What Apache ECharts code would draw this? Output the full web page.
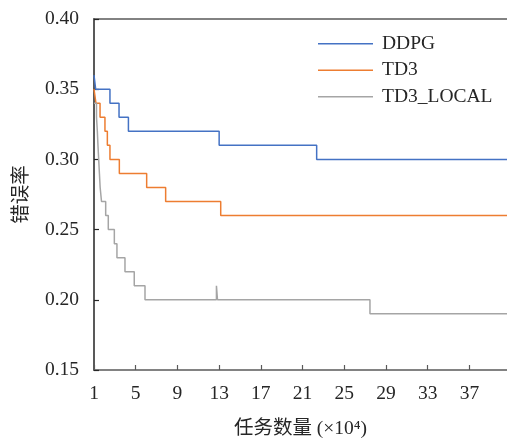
<!DOCTYPE html>
<html>
<head>
    <meta charset="utf-8" />
    <title>错误率</title>
    <style type="text/css">
        html, body {
            height: 100%;
            width: 100%;
            margin: 0;
            padding: 0;
            background-color: #ffffff;
            overflow: hidden;
        }

        #charts {
            width: 507px;
            height: 439px;
        }
    </style>
</head>
<body>
    <div id="charts"></div>
    <script src="https://cdn.jsdelivr.net/npm/echarts@6/dist/echarts.min.js"></script>
    <script type="text/javascript">
        // 数据 (x: 任务数量 ×10^4, y: 错误率), 每一点是台阶开始的位置
        var seriesNames = ['DDPG', 'TD3', 'TD3_LOCAL'];
        var ddpgX = [1, 1.16, 2.53, 3.4, 4.3, 13.0, 22.35, 40.6];
        var ddpgY = [0.36, 0.35, 0.34, 0.33, 0.32, 0.31, 0.30, 0.30];
        var td3X = [1, 1.19, 1.58, 2.05, 2.28, 2.53, 3.43, 6.05, 7.87, 13.15, 40.6];
        var td3Y = [0.35, 0.34, 0.33, 0.32, 0.31, 0.30, 0.29, 0.28, 0.27, 0.26, 0.26];
        var localX = [1, 1.24, 1.32, 1.38, 1.45, 1.52, 1.59, 1.72, 2.12, 2.37, 2.95, 3.2, 3.97, 4.86, 5.89, 12.74, 12.84, 27.46, 40.6];
        var localY = [0.34, 0.33, 0.32, 0.31, 0.30, 0.29, 0.28, 0.27, 0.26, 0.25, 0.24, 0.23, 0.22, 0.21, 0.20, 0.21, 0.20, 0.19, 0.19];
        var xTicks = [1, 5, 9, 13, 17, 21, 25, 29, 33, 37];

        var FONT = 'Liberation Serif, "Noto Sans CJK SC", serif';
        var TEXT_COLOR = '#262626';
        var AXIS_COLOR = '#595959';

        var pairs = function (xs, ys) {
            var out = [];
            for (var i = 0; i < xs.length; i++) {
                out.push([xs[i], ys[i]]);
            }
            return out;
        };

        var makeSeries = function (name, color, data) {
            return {
                name: name,
                type: 'line',
                step: 'end',
                symbol: 'none',
                data: data,
                lineStyle: { color: color, width: 1.5 },
                itemStyle: { color: color },
                animation: false
            };
        };

        var ChartOption = {
            backgroundColor: '#ffffff',
            textStyle: { fontFamily: FONT },
            legend: {
                orient: 'vertical',
                left: 318,
                top: 34,
                padding: 0,
                icon: 'rect',
                itemWidth: 55,
                itemHeight: 1.5,
                itemGap: 7,
                textStyle: { fontFamily: FONT, fontSize: 19.5, color: TEXT_COLOR, lineHeight: 19, padding: [0, 0, 0, 4] },
                data: seriesNames
            },
            grid: { left: 94, top: 19, right: 0, bottom: 69, containLabel: false, outerBoundsMode: 'none' },
            xAxis: [
                {
                    type: 'value',
                    min: 1,
                    max: 40.6,
                    interval: 4,
                    name: '任务数量 (×10⁴)',
                    nameLocation: 'middle',
                    nameGap: 49,
                    nameTextStyle: { fontFamily: FONT, fontSize: 19.5, color: TEXT_COLOR },
                    axisLine: { show: true, lineStyle: { color: AXIS_COLOR, width: 1.5 } },
                    axisTick: { show: true, inside: true, length: 5, lineStyle: { color: AXIS_COLOR, width: 1.2 } },
                    axisLabel: {
                        fontFamily: FONT, fontSize: 19.5, color: TEXT_COLOR, margin: 14,
                        showMaxLabel: false,
                        formatter: function (v) { return xTicks.indexOf(v) >= 0 ? String(v) : ''; }
                    },
                    splitLine: { show: false }
                },
                {
                    type: 'value',
                    position: 'top',
                    min: 1,
                    max: 40.6,
                    interval: 4,
                    axisLine: { show: true, lineStyle: { color: AXIS_COLOR, width: 1.5 } },
                    axisTick: { show: false },
                    axisLabel: { show: false },
                    splitLine: { show: false }
                }
            ],
            yAxis: {
                type: 'value',
                min: 0.15,
                max: 0.40,
                interval: 0.05,
                name: '错误率',
                nameLocation: 'middle',
                nameGap: 62,
                nameRotate: 90,
                nameTextStyle: { fontFamily: FONT, fontSize: 19.5, color: TEXT_COLOR },
                axisLine: { show: true, lineStyle: { color: AXIS_COLOR, width: 2 } },
                axisTick: { show: true, inside: true, length: 5, lineStyle: { color: '#262626', width: 1.2 } },
                axisLabel: {
                    fontFamily: FONT, fontSize: 19.5, color: TEXT_COLOR, margin: 15,
                    formatter: function (v) { return v.toFixed(2); }
                },
                splitLine: { show: false }
            },
            series: [
                makeSeries(seriesNames[0], '#4472C4', pairs(ddpgX, ddpgY)),
                makeSeries(seriesNames[1], '#ED7D31', pairs(td3X, td3Y)),
                makeSeries(seriesNames[2], '#A5A5A5', pairs(localX, localY))
            ]
        };

        var myChart = echarts.init(document.getElementById('charts'), null, { renderer: 'canvas' });
        myChart.setOption(ChartOption);
        window.onresize = myChart.resize;
    </script>
</body>
</html>
